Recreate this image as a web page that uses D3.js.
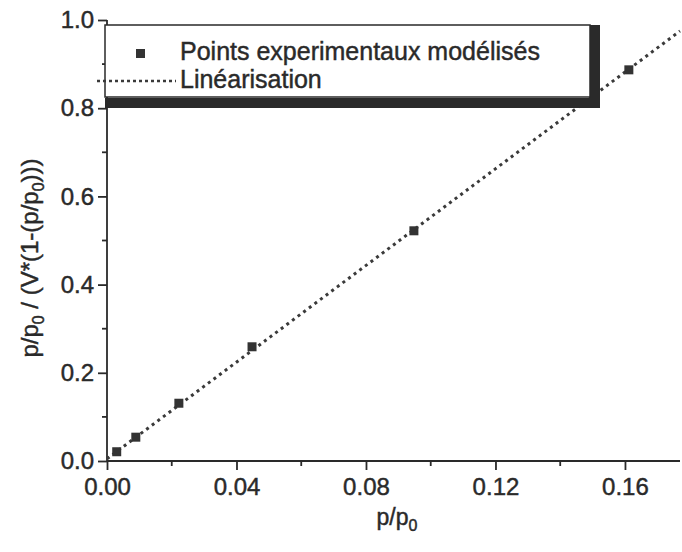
<!DOCTYPE html>
<html><head><meta charset="utf-8">
<script src="https://cdn.jsdelivr.net/npm/d3@7"></script>
<style>
body{margin:0;background:#fff;}
text{font-family:"Liberation Sans",Arial,sans-serif;fill:#2a2a2a;stroke:#2a2a2a;stroke-width:0.45px;}
</style></head>
<body>
<svg id="c" width="682" height="552"></svg>
<script>
// Data
const pointsX = [0.003, 0.0089, 0.0222, 0.0448, 0.0948, 0.1612];
const pointsY = [0.021, 0.054, 0.131, 0.259, 0.522, 0.887];
const fitX = [0.0, 0.177];
const fitY = [0.005, 0.975];
const xTicks = [0.00, 0.04, 0.08, 0.12, 0.16];
const yTicks = [0.0, 0.2, 0.4, 0.6, 0.8, 1.0];
const legendLabels = ["Points experimentaux modélisés", "Linéarisation"];

const svg = d3.select("#c");
const x = d3.scaleLinear().domain([0, 0.177]).range([107, 680]);
const y = d3.scaleLinear().domain([0, 1]).range([461, 20]);
const ink = "#2a2a2a";

// axes
const xAxis = d3.axisBottom(x).tickValues(xTicks).tickFormat(d3.format(".2f")).tickSize(9).tickPadding(3);
const gx = svg.append("g").attr("transform", `translate(0,${y(0)})`).call(xAxis);
gx.select(".domain").attr("d", `M${x(0)},0H680`);
const xMinor = d3.range(0.02, 0.177, 0.04);
gx.selectAll(".minor").data(xMinor).enter().append("line").attr("class","minor")
  .attr("x1", d=>x(d)).attr("x2", d=>x(d)).attr("y1",0).attr("y2",5);

const yAxis = d3.axisLeft(y).tickValues(yTicks).tickFormat(d3.format(".1f")).tickSize(9).tickPadding(4);
const gy = svg.append("g").attr("transform", `translate(${x(0)},0)`).call(yAxis);
gy.select(".domain").attr("d", `M0,${y(0)}V${y(1)}`);
const yMinor = d3.range(0.1, 1.0, 0.2);
gy.selectAll(".minor").data(yMinor).enter().append("line").attr("class","minor")
  .attr("y1", d=>y(d)).attr("y2", d=>y(d)).attr("x1",0).attr("x2",-5);

svg.selectAll(".domain, .tick line, .minor").attr("stroke", ink).attr("stroke-width", 1.8);
svg.selectAll(".tick text").attr("font-size", 24).attr("font-family", '"Liberation Sans",Arial,sans-serif').attr("fill", ink);
gx.selectAll(".tick text").attr("dy", "0.9em");

// fit line
const line = d3.line().x(d=>x(d[0])).y(d=>y(d[1]));
svg.append("path").datum(d3.zip(fitX, fitY)).attr("d", line)
  .attr("fill","none").attr("stroke","#3a3a3a").attr("stroke-width",3)
  .attr("stroke-dasharray","3,4");

// points
const ms = 9;
svg.selectAll(".pt").data(d3.zip(pointsX, pointsY)).enter().append("rect")
  .attr("x", d=>x(d[0])-ms/2).attr("y", d=>y(d[1])-ms/2)
  .attr("width", ms).attr("height", ms).attr("fill", "#333");

// legend
const lg = svg.append("g");
lg.append("rect").attr("x",590).attr("y",25).attr("width",10).attr("height",83).attr("fill",ink);
lg.append("rect").attr("x",105).attr("y",98).attr("width",495).attr("height",10).attr("fill",ink);
lg.append("rect").attr("x",105).attr("y",25).attr("width",485).attr("height",72)
  .attr("fill","#fff").attr("stroke",ink).attr("stroke-width",1.5);
lg.append("rect").attr("x",136).attr("y",49).attr("width",ms).attr("height",ms).attr("fill","#333");
lg.append("line").attr("x1",97).attr("x2",176).attr("y1",81).attr("y2",81)
  .attr("stroke","#3a3a3a").attr("stroke-width",2.4).attr("stroke-dasharray","3,3");
lg.append("text").attr("x",180).attr("y",60).attr("font-size",25).text(legendLabels[0]);
lg.append("text").attr("x",180).attr("y",88).attr("font-size",25).text(legendLabels[1]);

// axis titles
const xt = svg.append("text").attr("x",397).attr("y",525).attr("text-anchor","middle").attr("font-size",23);
xt.append("tspan").text("p/p");
xt.append("tspan").attr("font-size",16).attr("dy",6).text("0");

const yt = svg.append("text").attr("transform","translate(38,258) rotate(-90)").attr("text-anchor","middle").attr("font-size",24);
yt.append("tspan").text("p/p");
yt.append("tspan").attr("font-size",16).attr("dy",6).text("0");
yt.append("tspan").attr("dy",-6).text(" / (V*(1-(p/p");
yt.append("tspan").attr("font-size",16).attr("dy",6).text("0");
yt.append("tspan").attr("dy",-6).text(")))");
</script>
</body></html>
